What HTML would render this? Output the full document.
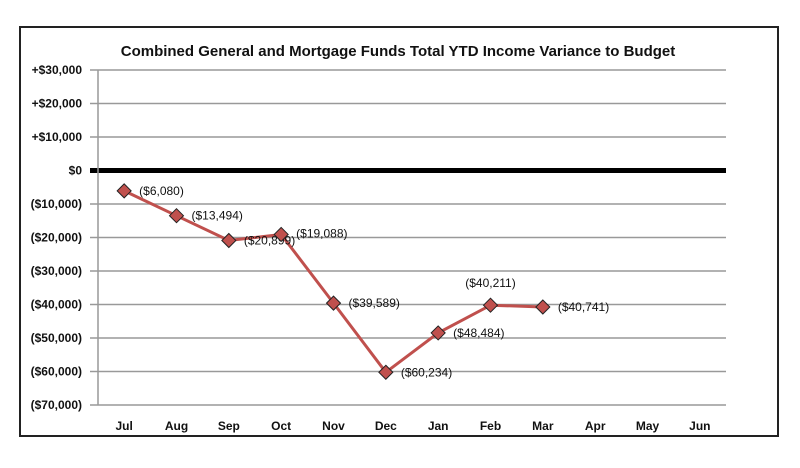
<!DOCTYPE html>
<html><head><meta charset="utf-8"><style>
body{margin:0;background:#fff;}
svg{display:block;font-family:"Liberation Sans",sans-serif;}
</style></head><body>
<svg width="800" height="468">
<rect x="20" y="27" width="758" height="409" fill="#fff" stroke="#222" stroke-width="2"/>
<text x="398" y="56" text-anchor="middle" font-size="15" font-weight="bold" fill="#111">Combined General and Mortgage Funds Total YTD Income Variance to Budget</text>
<g id="grid"></g><g id="yticks"></g><g id="xticks"></g><g id="series"></g>
</svg>
<script>
const categories=["Jul","Aug","Sep","Oct","Nov","Dec","Jan","Feb","Mar","Apr","May","Jun"];
const values=[-6080,-13494,-20899,-19088,-39589,-60234,-48484,-40211,-40741];
const labels=["($6,080)","($13,494)","($20,899)","($19,088)","($39,589)","($60,234)","($48,484)","($40,211)","($40,741)"];
const yTicks=[30000,20000,10000,0,-10000,-20000,-30000,-40000,-50000,-60000,-70000];
const yTickLabels=["+$30,000","+$20,000","+$10,000","$0","($10,000)","($20,000)","($30,000)","($40,000)","($50,000)","($60,000)","($70,000)"];
const labelDy=[0,0,0,-1,0,0,0,-22,0];
const NS="http://www.w3.org/2000/svg";
const L=98,R=726,T=70,B=405;
const y=v=>T+(30000-v)/100000*(B-T);
const bw=(R-L)/categories.length;
const x=i=>L+bw*(i+0.5);
function mk(t,a,p){const e=document.createElementNS(NS,t);for(const k in a)e.setAttribute(k,a[k]);p.appendChild(e);return e;}
const grid=document.getElementById('grid'),yt=document.getElementById('yticks'),xt=document.getElementById('xticks'),se=document.getElementById('series');
yTicks.forEach((v,i)=>{
 const g=mk('line',{x1:L-8,x2:R,y1:y(v),y2:y(v),stroke:v===0?'#000':'#999','stroke-width':v===0?5:1.5},grid);
 
 
 const t=mk('text',{x:82,y:y(v)+4,'text-anchor':'end','font-size':12,'font-weight':'bold',fill:'#111'},yt);
 t.textContent=yTickLabels[i];
 
 
});
const ax=mk('line',{x1:L,x2:L,y1:T,y2:B,stroke:'#999','stroke-width':1.5},grid);


categories.forEach((c,i)=>{
 const t=mk('text',{x:x(i),y:430,'text-anchor':'middle','font-size':12,'font-weight':'bold',fill:'#111'},xt);
 t.textContent=c;
 
 
});
const pl=mk('polyline',{points:values.map((v,i)=>x(i)+','+y(v)).join(' '),fill:'none',stroke:'#c0504d','stroke-width':3},se);


values.forEach((v,i)=>{
 const cx=x(i),cy=y(v);
 const d=mk('polygon',{points:`${cx},${cy-7} ${cx+7},${cy} ${cx},${cy+7} ${cx-7},${cy}`,fill:'#c0504d',stroke:'#222','stroke-width':1},se);
 
 
 const t=mk('text',{x:labelDy[i]<-5?cx:cx+15,y:cy+4+labelDy[i],'text-anchor':labelDy[i]<-5?'middle':'start','font-size':12,fill:'#111'},se);
 t.textContent=labels[i];
 
 
});
</script>
</body></html>
